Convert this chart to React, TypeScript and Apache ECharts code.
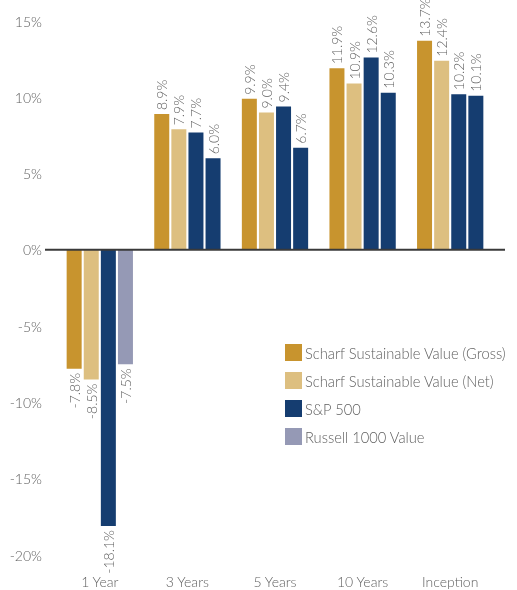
import React, { useEffect, useRef } from "react";
import * as echarts from "echarts";

const categories = ["1 Year", "3 Years", "5 Years", "10 Years", "Inception"];
const grossValues = [-7.8, 8.9, 9.9, 11.9, 13.7];
const netValues = [-8.5, 7.9, 9.0, 10.9, 12.4];
const spValues = [-18.1, 7.7, 9.4, 12.6, 10.2];
const russellValues = [-7.5, 6.0, 6.7, 10.3, 10.1];
const seriesNames = [
  "Scharf Sustainable Value (Gross)",
  "Scharf Sustainable Value (Net)",
  "S&P 500",
  "Russell 1000 Value",
];
const yTicks = { min: -20, max: 15, interval: 5 };

const GOLD = "#C8942E";
const LIGHT_GOLD = "#DDBF80";
const NAVY = "#153D70";
const LAVENDER = "#9599B5";
const FONT = "Lato, 'Open Sans', sans-serif";
const TEXT = "#5f5f5f";

export default function App() {
  const ref = useRef<HTMLDivElement>(null);
  useEffect(() => {
    if (!ref.current) return;
    const chart = echarts.init(ref.current, undefined, { renderer: "svg" });
    const mkData = (vals: number[], colorFor?: (i: number) => string | undefined) =>
      vals.map((v, i) => {
        const c = colorFor ? colorFor(i) : undefined;
        const item: any = {
          value: v,
          label: {
            align: v < 0 ? "right" : "left",
          },
        };
        if (c) item.itemStyle = { color: c };
        return item;
      });
    const label = {
      show: true,
      position: "outside",
      rotate: 90,
      verticalAlign: "middle",
      distance: 4,
      color: TEXT,
      fontSize: 14,
      fontWeight: 300,
      fontFamily: FONT,
      formatter: (p: any) => `${Number(p.value).toFixed(1)}%`,
    };
    const colors = [GOLD, LIGHT_GOLD, NAVY, LAVENDER];
    const valuesList = [grossValues, netValues, spValues, russellValues];
    const barSeries = valuesList.map((vals, si) => ({
      type: "bar",
      name: seriesNames[si],
      xAxisIndex: 0,
      yAxisIndex: 0,
      barWidth: 15,
      barGap: "14%",
      itemStyle: { color: colors[si] },
      label,
      data: mkData(vals, si === 3 ? (i) => (i === 0 ? undefined : NAVY) : undefined),
    }));
    chart.setOption({
      animation: false,
      grid: [
        { left: 56, right: 23, top: 21, bottom: 35 },
        { left: 45, right: 12, top: 21, bottom: 35 },
      ],
      legend: {
        orient: "vertical",
        left: 285,
        top: 344,
        itemWidth: 17,
        itemHeight: 17,
        itemGap: 11,
        icon: "rect",
        padding: 0,
        textStyle: {
          color: TEXT,
          fontSize: 14.7,
          fontWeight: 300,
          fontFamily: FONT,
          padding: [0, 0, 0, -2],
        },
        data: seriesNames,
      },
      xAxis: [
        {
          type: "category",
          gridIndex: 0,
          data: categories,
          axisLine: { show: false },
          axisTick: { show: false },
          axisLabel: {
            color: TEXT,
            fontSize: 14,
            fontWeight: 300,
            fontFamily: FONT,
            margin: 19,
          },
        },
        { type: "value", gridIndex: 1, min: 0, max: 1, show: false },
      ],
      yAxis: [
        {
          type: "value",
          gridIndex: 0,
          min: yTicks.min,
          max: yTicks.max,
          interval: yTicks.interval,
          axisLine: { show: false },
          axisTick: { show: false },
          splitLine: { show: false },
          axisLabel: {
            color: TEXT,
            fontSize: 14,
            fontWeight: 300,
            fontFamily: FONT,
            margin: 14,
            formatter: "{value}%",
          },
        },
        { type: "value", gridIndex: 1, min: yTicks.min, max: yTicks.max, show: false },
      ],
      series: [
        ...barSeries,
        {
          type: "line",
          xAxisIndex: 1,
          yAxisIndex: 1,
          silent: true,
          symbol: "none",
          z: 5,
          lineStyle: { color: "#3a3a3a", width: 2 },
          data: [
            [0, 0],
            [1, 0],
          ],
        },
      ],
    });
    return () => chart.dispose();
  }, []);
  return (
    <div
      ref={ref}
      style={{ position: "fixed", left: 0, top: 0, width: 517, height: 590 }}
    />
  );
}
